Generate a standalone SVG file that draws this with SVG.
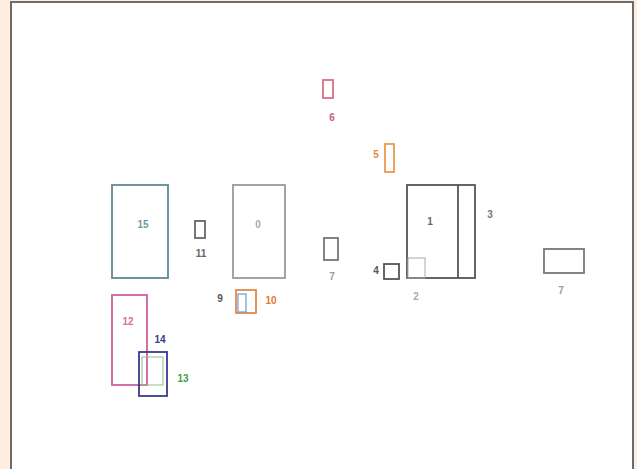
<svg xmlns="http://www.w3.org/2000/svg" width="637" height="469" viewBox="0 0 637 469">
<style>
.n{fill:none;stroke-width:1.8}
.t{font-family:"Liberation Sans",Arial,sans-serif;font-size:10px;font-weight:bold;text-anchor:middle;dominant-baseline:central}
</style>
<rect x="0" y="0" width="637" height="469" fill="#fdeee1"/>
<rect x="11" y="2" width="622" height="475" fill="#ffffff" stroke="#6f6a66" stroke-width="2"/>
<g id="n15"><rect class="n" x="112" y="185" width="56" height="93" stroke="#5f8a93"/><text class="t" x="143" y="224" fill="#6f9aa3">15</text></g>
<g id="n11"><rect class="n" x="195" y="221" width="10" height="17" stroke="#666"/><text class="t" x="201" y="253" fill="#666" font-size="8">11</text></g>
<g id="n0"><rect class="n" x="233" y="185" width="52" height="93" stroke="#9a9a9a"/><text class="t" x="258" y="224" fill="#aaa">0</text></g>
<g id="n6"><rect class="n" x="323" y="80" width="10" height="18" stroke="#d4708a"/><text class="t" x="332" y="117" fill="#c9607a" font-size="8">6</text></g>
<g id="n5"><rect class="n" x="385" y="144" width="9" height="28" stroke="#ea9a50"/><text class="t" x="376" y="154" fill="#e08a3a" font-size="9">5</text></g>
<g id="n7a"><rect class="n" x="324" y="238" width="14" height="22" stroke="#777"/><text class="t" x="332" y="276" fill="#999">7</text></g>
<g id="n1"><rect class="n" x="407" y="185" width="68" height="93" stroke="#555"/><line x1="458" y1="185" x2="458" y2="278" stroke="#555" stroke-width="1.8"/><text class="t" x="430" y="221" fill="#666">1</text></g>
<g id="n3"><text class="t" x="490" y="214" fill="#777">3</text></g>
<g id="n2"><rect x="408" y="258" width="17" height="20" fill="none" stroke="#b0aaa0" stroke-width="1"/><text class="t" x="416" y="296" fill="#aaa">2</text></g>
<g id="n4"><rect class="n" x="384" y="264" width="15" height="15" stroke="#555"/><text class="t" x="376" y="270" fill="#555" font-size="8">4</text></g>
<g id="n7b"><rect class="n" x="544" y="249" width="40" height="24" stroke="#777"/><text class="t" x="561" y="290" fill="#999">7</text></g>
<g id="n9"><text class="t" x="220" y="298" fill="#555" font-size="8">9</text></g>
<g id="n10"><rect class="n" x="236" y="290" width="20" height="23" stroke="#e08a4a"/><rect x="238" y="294" width="8" height="18" fill="none" stroke="#6a9ad0" stroke-width="1.2"/><text class="t" x="271" y="300" fill="#e07a30" font-size="9">10</text></g>
<g id="n12"><rect class="n" x="112" y="295" width="35" height="90" stroke="#d0609a"/><text class="t" x="128" y="321" fill="#d8709a">12</text></g>
<g id="n14"><rect class="n" x="139" y="352" width="28" height="44" stroke="#3a3a8a"/><text class="t" x="160" y="339" fill="#3a3a8a" font-size="9">14</text></g>
<g id="n13"><rect x="142" y="357" width="21" height="28" fill="none" stroke="#8ac08a" stroke-width="1"/><text class="t" x="183" y="378" fill="#40a040" font-size="9">13</text></g>
<g id="connectors"></g>
</svg>
